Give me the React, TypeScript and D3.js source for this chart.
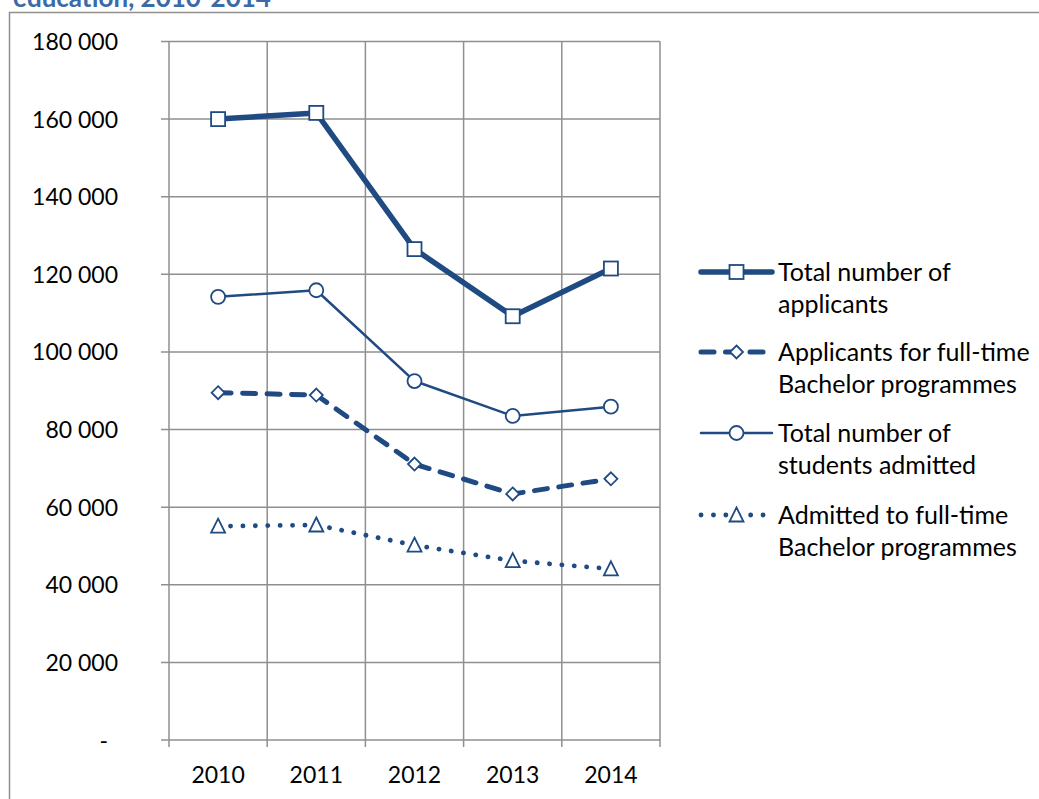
import React from "react";
import * as d3 from "d3";

const years = ["2010", "2011", "2012", "2013", "2014"];
const totalApplicants = [160000, 161600, 126500, 109200, 121500];
const fullTimeApplicants = [89500, 88900, 71100, 63400, 67300];
const totalAdmitted = [114200, 115900, 92500, 83500, 85900];
const fullTimeAdmitted = [55100, 55400, 50200, 46200, 44100];
const yTicks = [0, 20000, 40000, 60000, 80000, 100000, 120000, 140000, 160000, 180000];
const legendLabels = [
  ["Total number of", "applicants"],
  ["Applicants for full-time", "Bachelor programmes"],
  ["Total number of", "students admitted"],
  ["Admitted to full-time", "Bachelor programmes"],
];
const titleText = "education, 2010-2014";

const BLUE = "#1f4a82";
const GRID = "#8f8f8f";
const FONT = "Lato, 'Open Sans', sans-serif";

type Style = {
  width: number;
  dash?: string;
  cap: "butt" | "round";
  marker: "square" | "diamond" | "circle" | "triangle";
};

const styles: Style[] = [
  { width: 5.5, cap: "round", marker: "square" },
  { width: 5, dash: "13 11.5", cap: "round", marker: "diamond" },
  { width: 2.5, cap: "round", marker: "circle" },
  { width: 4.8, dash: "0.1 12.3", cap: "round", marker: "triangle" },
];

const seriesData = [totalApplicants, fullTimeApplicants, totalAdmitted, fullTimeAdmitted];

function Marker({ kind, x, y }: { kind: Style["marker"]; x: number; y: number }) {
  const common = { fill: "#fff", stroke: BLUE, strokeWidth: 1.8 };
  if (kind === "square") return <rect x={x - 7} y={y - 7} width={14} height={14} {...common} />;
  if (kind === "circle") return <circle cx={x} cy={y} r={7} {...common} />;
  if (kind === "diamond")
    return <path d={`M${x},${y - 6.5}L${x + 6.5},${y}L${x},${y + 6.5}L${x - 6.5},${y}Z`} {...common} />;
  return <path d={`M${x},${y - 7.5}L${x + 7},${y + 6.5}L${x - 7},${y + 6.5}Z`} {...common} />;
}

export default function App() {
  const W = 1039;
  const H = 799;
  const left = 169;
  const right = 660;
  const top = 41.5;
  const bottom = 740;

  const xBand = d3.scaleBand<string>().domain(years).range([left, right]).padding(0);
  const xc = (yr: string) => (xBand(yr) as number) + xBand.bandwidth() / 2;
  const y = d3.scaleLinear().domain([0, 180000]).range([bottom, top]);
  const fmt = (v: number) => (v === 0 ? "-" : d3.format(",")(v).replace(/,/g, " "));

  const line = d3
    .line<number>()
    .x((_, i) => xc(years[i]))
    .y((d) => y(d));

  const legendX1 = 701;
  const legendX2 = 772;
  const legendY = [272, 352, 433, 515];

  return (
    <svg
      width={W}
      height={H}
      style={{ position: "absolute", left: 0, top: 0, background: "#fff" }}
      fontFamily={FONT}
    >
      <rect x={0} y={0} width={W} height={H} fill="#fff" />
      <text x={13} y={7} fontSize={26} fontWeight="bold" fill="#3b6aa8">
        {titleText}
      </text>
      {/* outer border */}
      <path d={`M9.5,${H}V12.5H${W}`} fill="none" stroke={GRID} strokeWidth={1.5} />

      {/* horizontal gridlines */}
      {yTicks.map((t) => (
        <line key={"h" + t} x1={left - 8} x2={right} y1={y(t)} y2={y(t)} stroke={GRID} strokeWidth={1.5} />
      ))}
      {/* vertical gridlines */}
      {[...years.map((yr) => xBand(yr) as number), right].map((x, i) => (
        <line key={"v" + i} x1={x} x2={x} y1={top} y2={bottom + 7} stroke={GRID} strokeWidth={1.5} />
      ))}

      {/* y tick labels */}
      {yTicks.map((t) => (
        <text
          key={"yl" + t}
          x={t === 0 ? 108 : 118}
          y={y(t) + 8.5}
          textAnchor="end"
          fontSize={23}
          fill="#000"
        >
          {fmt(t)}
        </text>
      ))}
      {/* x tick labels */}
      {years.map((yr) => (
        <text key={"xl" + yr} x={xc(yr)} y={783} textAnchor="middle" fontSize={23} fill="#000">
          {yr}
        </text>
      ))}

      {/* series */}
      {seriesData.map((data, si) => (
        <g key={"s" + si}>
          <path
            d={line(data) as string}
            fill="none"
            stroke={BLUE}
            strokeWidth={styles[si].width}
            strokeDasharray={styles[si].dash}
            strokeLinecap={styles[si].cap}
            strokeLinejoin="round"
          />
          {data.map((v, i) => (
            <Marker key={i} kind={styles[si].marker} x={xc(years[i])} y={y(v)} />
          ))}
        </g>
      ))}

      {/* legend */}
      {legendLabels.map((lines, li) => (
        <g key={"lg" + li}>
          <line
            x1={legendX1}
            x2={legendX2}
            y1={legendY[li]}
            y2={legendY[li]}
            stroke={BLUE}
            strokeWidth={styles[li].width}
            strokeDasharray={styles[li].dash}
            strokeLinecap={styles[li].cap}
          />
          <Marker kind={styles[li].marker} x={(legendX1 + legendX2) / 2} y={legendY[li]} />
          {lines.map((t, k) => (
            <text key={k} x={778} y={legendY[li] + 9 + k * 32} fontSize={25} fill="#000">
              {t}
            </text>
          ))}
        </g>
      ))}
    </svg>
  );
}
